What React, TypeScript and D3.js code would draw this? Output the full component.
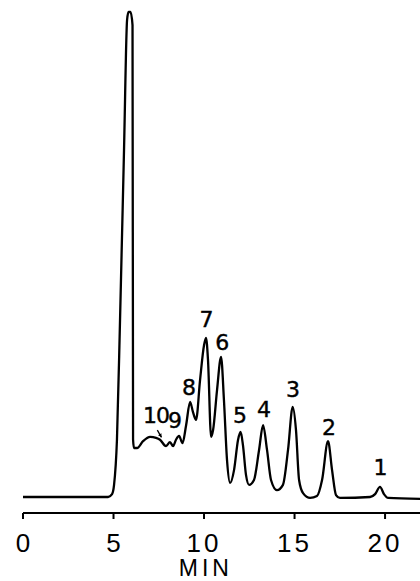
import * as d3 from "d3";

// retention time (min) and detector response (arbitrary units, baseline = 0)
const times = [
  0, 4.7, 4.92, 5.03, 5.19, 5.36, 5.58, 5.75, 5.83, 5.94, 6.05, 6.08, 6.13, 6.3,
  6.63, 7.02, 7.35, 7.57, 7.9, 8.12, 8.29, 8.45, 8.62, 8.81, 9.01, 9.23, 9.39,
  9.56, 9.78, 10.0, 10.11, 10.22, 10.39, 10.5, 10.72, 10.94, 11.1, 11.27, 11.44,
  11.66, 11.88, 12.02, 12.15, 12.32, 12.49, 12.76, 13.04, 13.26, 13.48, 13.7,
  14.03, 14.36, 14.64, 14.9, 15.08, 15.25, 15.47, 15.86, 16.24, 16.52, 16.85,
  17.07, 17.29, 17.51, 19.17, 19.45, 19.72, 19.94, 20.17, 21.93,
];
const response = [
  0, 0, 0.6, 2.5, 11.8, 36.5, 71.5, 98.4, 100, 100, 97.3, 11.8, 10.1, 10.1,
  11.5, 12.4, 12.2, 11.8, 10.5, 11.3, 10.5, 11.8, 12.6, 11.1, 14.8, 19.6, 17.5,
  15.9, 24.1, 31.3, 32.8, 28.2, 12.4, 13.8, 22.1, 28.9, 20, 7.6, 2.9,
  5.6, 11.8, 13.4, 10.7, 4.5, 2.5, 3.5, 9.7, 14.8, 9.7, 3.5,
  1.4, 2.5, 9.7, 18.6, 13.8, 3.5, 0.8, -0.2, 0.2, 3.5, 11.5,
  5.6, 0.4, -0.2, 0, 0.6, 2.1, 0.6, -0.2, -0.4,
];

const xTicks = [0, 5, 10, 15, 20];

// peak labels: text, label anchor time, label anchor response
const peakNames = ["10", "9", "8", "7", "6", "5", "4", "3", "2", "1"];
const peakLabelT = [7.35, 8.4, 9.17, 10.14, 11.0, 11.99, 13.31, 14.92, 16.9, 19.75];
const peakLabelR = [15.3, 14.2, 21.0, 35.1, 30.3, 15.3, 16.5, 20.6, 12.8, 4.5];

// arrow from label "10" to its peak
const arrowT = [7.42, 7.65];
const arrowR = [13.8, 12.3];

const W = 420;
const H = 581;

export default function App() {
  const x = d3.scaleLinear().domain([0, 21.93]).range([23, 420]);
  const y = d3.scaleLinear().domain([0, 100]).range([497, 12]);
  const axisY = 513;

  const pts: [number, number][] = times.map((t, i) => [t, response[i]]);
  const line = d3
    .line<[number, number]>()
    .x((d) => x(d[0]))
    .y((d) => y(d[1]))
    .curve(d3.curveMonotoneX);

  const ax0 = x(arrowT[0]);
  const ay0 = y(arrowR[0]);
  const ax1 = x(arrowT[1]);
  const ay1 = y(arrowR[1]);
  const ang = Math.atan2(ay1 - ay0, ax1 - ax0);
  const head = 4;
  const arrowHead = `M${ax1},${ay1} L${ax1 - head * Math.cos(ang - 0.5)},${ay1 - head * Math.sin(ang - 0.5)} L${ax1 - head * Math.cos(ang + 0.5)},${ay1 - head * Math.sin(ang + 0.5)} Z`;

  return (
    <svg
      width={W}
      height={H}
      viewBox={`0 0 ${W} ${H}`}
      style={{ position: "absolute", left: 0, top: 0, background: "white" }}
    >
      <path
        d={line(pts) ?? ""}
        fill="none"
        stroke="black"
        strokeWidth={2.3}
        strokeLinejoin="round"
      />

      {peakNames.map((n, i) => (
        <text
          key={n}
          x={x(peakLabelT[i])}
          y={y(peakLabelR[i])}
          fontSize={22}
          fontFamily="'DejaVu Sans', sans-serif"
          textAnchor="middle"
          fill="black"
          stroke="black"
          strokeWidth={0.4}
          letterSpacing={n.length > 1 ? -1 : 0}
        >
          {n}
        </text>
      ))}
      <line x1={ax0} y1={ay0} x2={ax1} y2={ay1} stroke="black" strokeWidth={1.3} />
      <path d={arrowHead} fill="black" />

      <g className="x-axis">
        <line x1={x.range()[0]} x2={x.range()[1]} y1={axisY} y2={axisY} stroke="black" strokeWidth={2.2} />
        {xTicks.map((t) => (
          <g key={t} transform={`translate(${x(t)},${axisY})`}>
            <line y1={0} y2={6} stroke="black" strokeWidth={2} />
            <text
              y={39}
              fontSize={26}
              fontFamily="'Liberation Sans', sans-serif"
              textAnchor="middle"
              fill="black"
              letterSpacing={t >= 10 ? 3 : 0}
            >
              {t}
            </text>
          </g>
        ))}
        <text
          x={x(10.1)}
          y={576}
          fontSize={23}
          fontFamily="'Liberation Sans', sans-serif"
          textAnchor="middle"
          letterSpacing={4}
          fill="black"
        >
          MIN
        </text>
      </g>
    </svg>
  );
}
